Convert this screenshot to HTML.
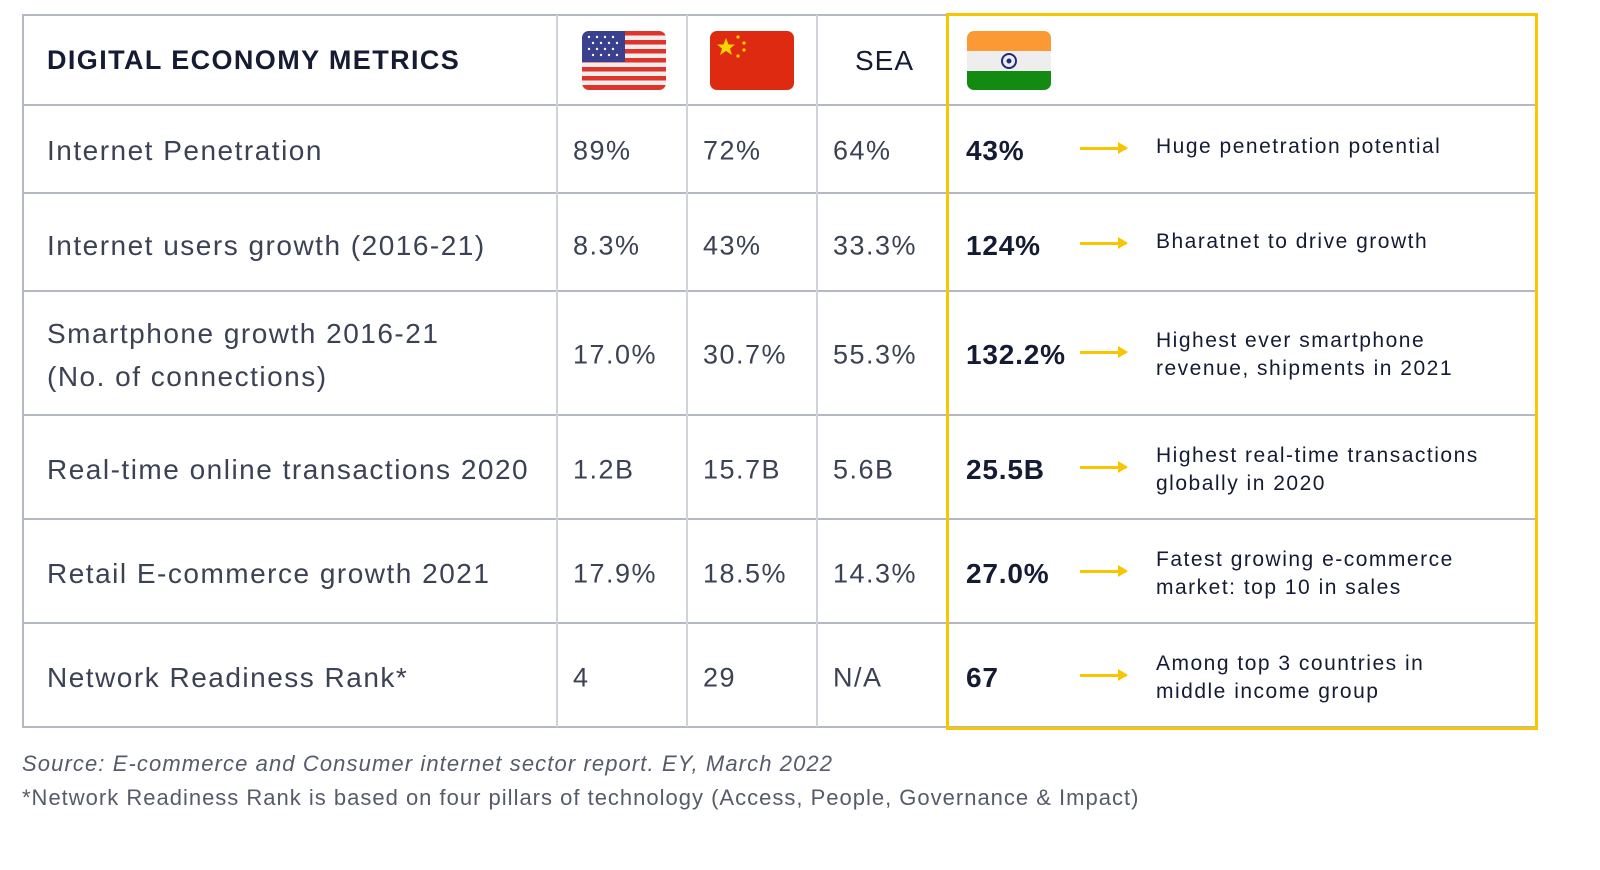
<!DOCTYPE html>
<html><head><meta charset="utf-8"><style>
body{margin:0;width:1600px;height:870px;background:#fff;font-family:"Liberation Sans",sans-serif;position:relative;overflow:hidden}
.a{position:absolute}
.h{background:#b4b8c2;height:2px;left:22px;width:1513px}
.v{background:#d0d3d9;width:2px;top:15px;height:712px}
.lbl{left:47px;font-size:28px;color:#3b4254;white-space:nowrap;transform:translateY(-50%);letter-spacing:1.5px}
.val{font-size:27px;color:#3b4254;transform:translateY(-50%);letter-spacing:1.5px}
.ind{left:966px;font-size:28px;font-weight:bold;color:#141b33;transform:translateY(-50%);letter-spacing:0.8px}
.note{left:1156px;font-size:21px;color:#141b33;line-height:28px;transform:translateY(-50%);letter-spacing:1.5px}
.arr{left:1080px;width:46px;height:3px;background:#f7c600}
.arr:after{content:"";position:absolute;right:-2px;top:-5px;border-left:10px solid #f7c600;border-top:6.5px solid transparent;border-bottom:6.5px solid transparent}
.foot{left:22px;font-size:22px;color:#555b69}
</style></head><body>
<div class="a" style="left:22px;top:15px;width:2px;height:713px;background:#b4b8c2"></div>
<div class="a h" style="top:14px"></div>
<div class="a h" style="top:104px"></div>
<div class="a h" style="top:192px"></div>
<div class="a h" style="top:290px"></div>
<div class="a h" style="top:414px"></div>
<div class="a h" style="top:518px"></div>
<div class="a h" style="top:622px"></div>
<div class="a h" style="top:726px"></div>
<div class="a v" style="left:556px"></div>
<div class="a v" style="left:686px"></div>
<div class="a v" style="left:816px"></div>
<div class="a" style="left:946px;top:13px;width:586px;height:711px;border:3px solid #f7c600"></div>

<div class="a" style="left:47px;top:45px;font-size:27px;font-weight:bold;color:#141b33;letter-spacing:1.4px">DIGITAL ECONOMY METRICS</div>
<svg class="a" style="left:582px;top:31px" width="84" height="59" viewBox="0 0 84 59">
<defs><clipPath id="c1"><rect width="84" height="59" rx="7"/></clipPath></defs>
<g clip-path="url(#c1)"><rect width="84" height="59" fill="#eee"/>
<g fill="#e0342a"><rect y="0" width="84" height="4.5"/><rect y="9" width="84" height="4.5"/><rect y="18" width="84" height="4.5"/><rect y="27" width="84" height="4.5"/><rect y="36" width="84" height="4.5"/><rect y="45" width="84" height="4.5"/><rect y="54" width="84" height="5"/></g>
<rect width="43" height="31" fill="#3b3f8f"/></g>
<g fill="#fff"><circle cx="7" cy="6" r="1.2"/><circle cx="15" cy="6" r="1.2"/><circle cx="23" cy="6" r="1.2"/><circle cx="31" cy="6" r="1.2"/><circle cx="11" cy="12" r="1.2"/><circle cx="19" cy="12" r="1.2"/><circle cx="27" cy="12" r="1.2"/><circle cx="35" cy="12" r="1.2"/><circle cx="7" cy="18" r="1.2"/><circle cx="15" cy="18" r="1.2"/><circle cx="23" cy="18" r="1.2"/><circle cx="31" cy="18" r="1.2"/><circle cx="11" cy="24" r="1.2"/><circle cx="19" cy="24" r="1.2"/><circle cx="27" cy="24" r="1.2"/><circle cx="35" cy="24" r="1.2"/></g></svg>
<svg class="a" style="left:710px;top:31px" width="84" height="59" viewBox="0 0 84 59">
<rect width="84" height="59" rx="7" fill="#dd2a10"/>
<polygon points="16,7 18.5,13.5 25,13.5 20,17.5 22,24 16,20 10,24 12,17.5 7,13.5 13.5,13.5" fill="#f9d400"/>
<g fill="#f9d400"><circle cx="28" cy="6" r="1.6"/><circle cx="34" cy="12" r="1.6"/><circle cx="34" cy="19" r="1.6"/><circle cx="28" cy="25" r="1.6"/></g></svg>
<div class="a" style="left:855px;top:45px;font-size:28px;color:#141b33;letter-spacing:1px">SEA</div>
<svg class="a" style="left:967px;top:31px" width="84" height="59" viewBox="0 0 84 59">
<defs><clipPath id="c2"><rect width="84" height="59" rx="7"/></clipPath></defs>
<g clip-path="url(#c2)"><rect width="84" height="20" fill="#fb9a35"/><rect y="20" width="84" height="20" fill="#eee"/><rect y="40" width="84" height="19" fill="#138a12"/></g>
<circle cx="42" cy="30" r="7" fill="none" stroke="#1f2a80" stroke-width="2"/><circle cx="42" cy="30" r="2.5" fill="#1f2a80"/></svg>

<div id="rows"></div>
<div class="a foot" style="top:751px;font-style:italic;letter-spacing:1.1px">Source: E-commerce and Consumer internet sector report. EY, March 2022</div>
<div class="a foot" style="top:785px;letter-spacing:1px">*Network Readiness Rank is based on four pillars of technology (Access, People, Governance &amp; Impact)</div>
<script>
const metrics=["Internet Penetration","Internet users growth (2016-21)","Smartphone growth 2016-21<br>(No. of connections)","Real-time online transactions 2020","Retail E-commerce growth 2021","Network Readiness Rank*"];
const usa=["89%","8.3%","17.0%","1.2B","17.9%","4"];
const china=["72%","43%","30.7%","15.7B","18.5%","29"];
const sea=["64%","33.3%","55.3%","5.6B","14.3%","N/A"];
const india=["43%","124%","132.2%","25.5B","27.0%","67"];
const notes=["Huge penetration potential","Bharatnet to drive growth","Highest ever smartphone<br>revenue, shipments in 2021","Highest real-time transactions<br>globally in 2020","Fatest growing e-commerce<br>market: top 10 in sales","Among top 3 countries in<br>middle income group"];
const centers=[151,246,355,470,574,678];
const root=document.getElementById('rows');
function add(cls,x,y,html,name){const d=document.createElement('div');d.className='a '+cls;if(x!==null)d.style.left=x+'px';d.style.top=y+'px';d.innerHTML=html;


root.appendChild(d);return d;}
metrics.forEach((m,i)=>{const y=centers[i];
const l=add('lbl',null,y,m,'metric-label');if(i===2){l.style.lineHeight='43px';l.style.whiteSpace='normal';}
add('val',573,y,usa[i],'usa-value');
add('val',703,y,china[i],'china-value');
add('val',833,y,sea[i],'sea-value');
add('ind',null,y,india[i],'india-value');
add('arr',null,y-5+1,'','arrow');
add('note',null,y-(notes[i].includes('<br>')?0:4),notes[i],'india-note');
});
</script>
</body></html>
